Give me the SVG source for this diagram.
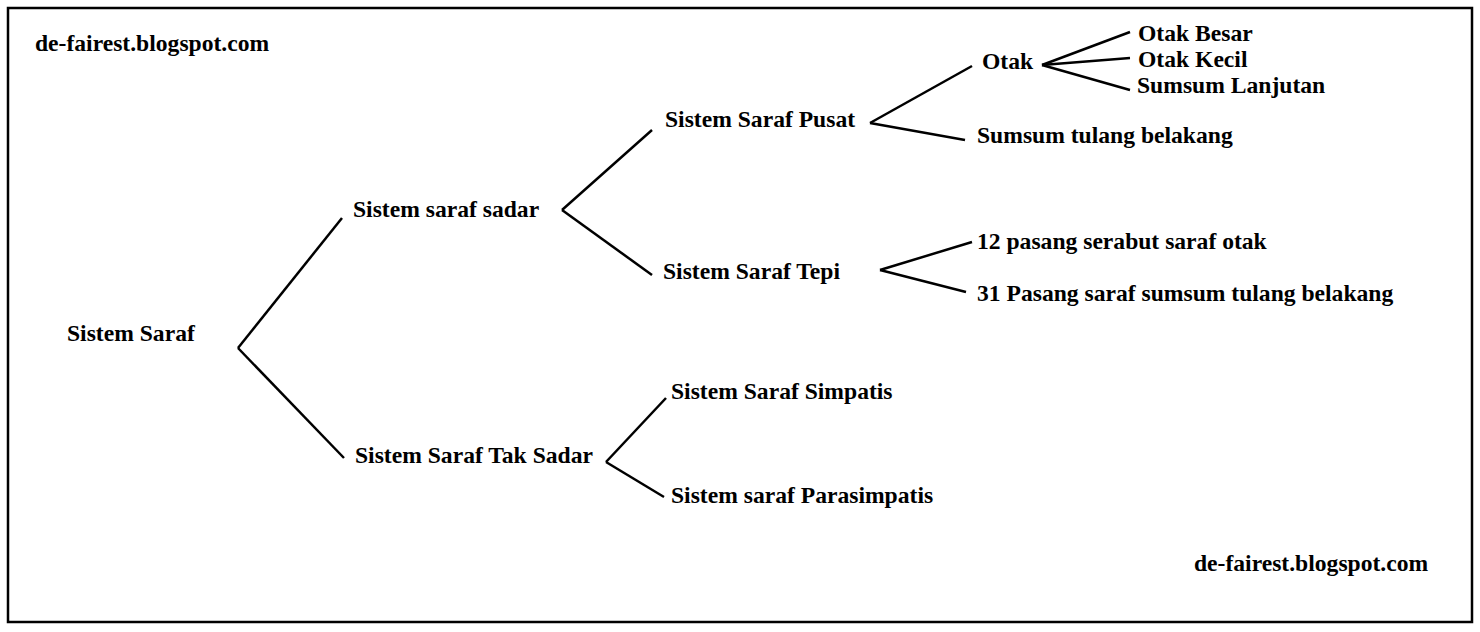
<svg xmlns="http://www.w3.org/2000/svg" width="1480" height="632" viewBox="0 0 1480 632">
<style>
text{font-family:"Liberation Serif",serif;font-weight:bold;font-size:23.6px;fill:#000}
.c line{stroke:#000;stroke-width:2.5}
</style>
<rect width="1480" height="632" fill="#fff"/>
<rect x="8" y="8" width="1464" height="614" fill="none" stroke="#000" stroke-width="2.5"/>
<g class="c" id="connectors">
<line x1="238" y1="348" x2="342" y2="218"/><line x1="238" y1="348" x2="344" y2="458"/>
<line x1="562" y1="210" x2="652" y2="130"/><line x1="562" y1="210" x2="652" y2="275"/>
<line x1="870" y1="123" x2="972" y2="66"/><line x1="870" y1="123" x2="965" y2="140"/>
<line x1="1042" y1="65" x2="1130" y2="32"/><line x1="1042" y1="65" x2="1130" y2="58"/><line x1="1042" y1="65" x2="1130" y2="90"/>
<line x1="880" y1="270" x2="972" y2="242"/><line x1="880" y1="270" x2="966" y2="292"/>
<line x1="606" y1="462" x2="666" y2="398"/><line x1="606" y1="462" x2="664" y2="497"/>
</g>
<g id="wm1"><text x="35" y="51">de-fairest.blogspot.com</text></g>
<g id="wm2"><text x="1194" y="571">de-fairest.blogspot.com</text></g>
<g id="n1"><text x="67" y="341">Sistem Saraf</text></g>
<g id="n2"><text x="353" y="217">Sistem saraf sadar</text></g>
<g id="n3"><text x="355" y="463">Sistem Saraf Tak Sadar</text></g>
<g id="n4"><text x="665" y="127">Sistem Saraf Pusat</text></g>
<g id="n5"><text x="663" y="279">Sistem Saraf Tepi</text></g>
<g id="n6"><text x="982" y="69">Otak</text></g>
<g id="n7"><text x="1138" y="41">Otak Besar</text></g>
<g id="n8"><text x="1138" y="67">Otak Kecil</text></g>
<g id="n9"><text x="1137" y="93">Sumsum Lanjutan</text></g>
<g id="n10"><text x="977" y="143">Sumsum tulang belakang</text></g>
<g id="n11"><text x="977" y="249">12 pasang serabut saraf otak</text></g>
<g id="n12"><text x="977" y="301">31 Pasang saraf sumsum tulang belakang</text></g>
<g id="n13"><text x="671" y="399">Sistem Saraf Simpatis</text></g>
<g id="n14"><text x="671" y="503">Sistem saraf Parasimpatis</text></g>
</svg>
